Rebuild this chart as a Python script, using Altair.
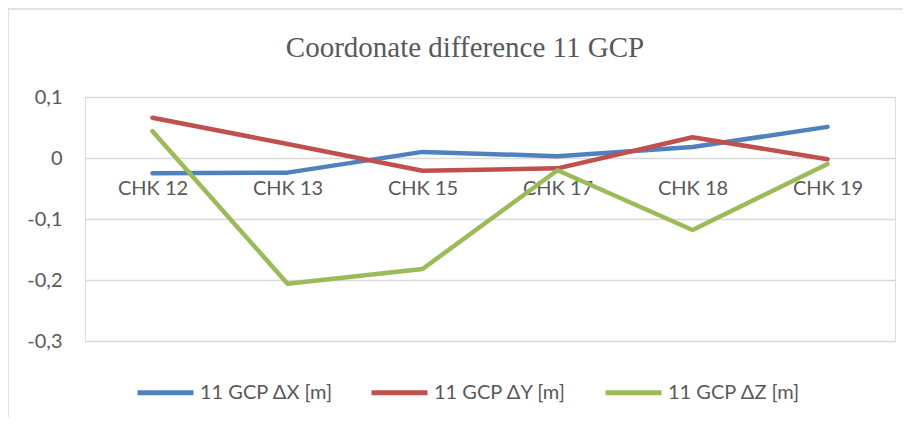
import altair as alt
import pandas as pd

categories = ["CHK 12", "CHK 13", "CHK 15", "CHK 17", "CHK 18", "CHK 19"]
series_names = ["11 GCP ΔX [m]", "11 GCP ΔY [m]", "11 GCP ΔZ [m]"]
delta_x = [-0.025, -0.024, 0.010, 0.003, 0.018, 0.051]
delta_y = [0.066, 0.023, -0.021, -0.017, 0.034, -0.002]
delta_z = [0.044, -0.206, -0.182, -0.020, -0.118, -0.010]
y_ticks = [-0.3, -0.2, -0.1, 0, 0.1]
colors = ["#4F81BD", "#C0504D", "#9BBB59"]

rows = []
for name, vals in zip(series_names, [delta_x, delta_y, delta_z]):
    for c, v in zip(categories, vals):
        rows.append({"point": c, "value": v, "series": name})
df = pd.DataFrame(rows)

W, H = 810, 244
ymin, ymax = -0.3, 0.1
zero_offset = -H * (0 - ymin) / (ymax - ymin)

FONT = "Lato"
GRAY = "#595959"

lines = alt.Chart(df).mark_line(strokeWidth=4.5, strokeJoin="round", strokeCap="round").encode(
    x=alt.X("point:N", sort=categories, title=None,
            scale=alt.Scale(type="point", padding=0.5),
            axis=alt.Axis(orient="bottom", offset=zero_offset, ticks=False, domain=False,
                          grid=False, labelAngle=0, labelPadding=20, labelFont=FONT,
                          labelFontSize=20, labelColor=GRAY)),
    y=alt.Y("value:Q", title=None,
            scale=alt.Scale(domain=[ymin, ymax], nice=False, zero=False),
            axis=alt.Axis(values=y_ticks, ticks=False, domain=False, grid=True,
                          gridColor="#d9d9d9", gridWidth=1.5, labelPadding=23,
                          labelFont=FONT, labelFontSize=20, labelColor=GRAY,
                          labelExpr="replace(replace(format(datum.value, '.1~f'), '.', ','), '\u2212', '-')")),
    color=alt.Color("series:N", sort=series_names,
                    scale=alt.Scale(domain=series_names, range=colors),
                    legend=alt.Legend(title=None, orient="none", legendX=50, legendY=265,
                                      direction="horizontal", symbolType="stroke",
                                      symbolSize=3136, symbolStrokeWidth=5,
                                      labelFont=FONT, labelFontSize=20, labelColor=GRAY,
                                      labelOffset=4, columnPadding=28)),
    order=alt.Order("point_idx:Q"),
).transform_calculate(point_idx="indexof(" + str(categories) + ", datum.point)")

frame_df = pd.DataFrame({"k": [0]})
left_border = alt.Chart(frame_df).mark_rule(color="#d9d9d9", strokeWidth=1.5).encode(
    x=alt.value(-77), y=alt.value(-88), y2=alt.value(H + 80))
top_border = alt.Chart(frame_df).mark_rule(color="#d9d9d9", strokeWidth=1.5).encode(
    y=alt.value(-88), x=alt.value(-77), x2=alt.value(W + 20))

chart = alt.layer(lines, left_border, top_border).properties(
    width=W, height=H,
    title=alt.TitleParams("Coordonate difference 11 GCP", font="Liberation Serif",
                          fontSize=29, fontWeight="normal", color=GRAY,
                          anchor="middle", frame="group", dx=-25, offset=0,
                          baseline="alphabetic", dy=78),
    padding={"left": 77, "top": 89, "right": 8, "bottom": 76},
    autosize=alt.AutoSizeParams(type="none"),
).configure_view(stroke=None).configure(background="white")

chart.save("out.html", embed_options={"renderer": "svg", "actions": False})
